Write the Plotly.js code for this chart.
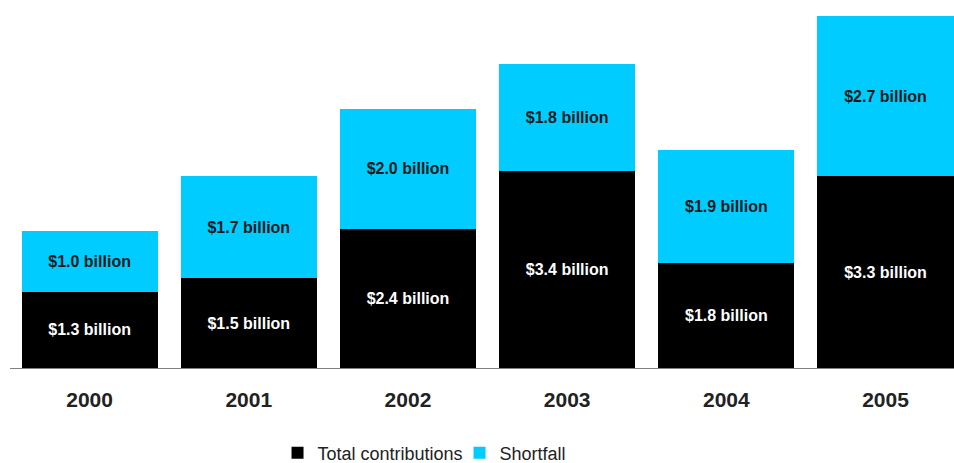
<!DOCTYPE html>
<html>
<head>
<meta charset="utf-8">
<script src="https://cdn.plot.ly/plotly-3.0.1.min.js"></script>
<style>html,body{margin:0;padding:0;background:#fff;}#chart{width:954px;height:463px;}</style>
</head>
<body>
<div id="chart"></div>
<script>
const years = ['2000', '2001', '2002', '2003', '2004', '2005'];
// bar heights (billions of dollars)
const totalContributions = [1.30, 1.53, 2.38, 3.37, 1.80, 3.27];
const shortfall = [1.045, 1.745, 2.045, 1.815, 1.915, 2.73];
const totalLabels = ['$1.3 billion', '$1.5 billion', '$2.4 billion', '$3.4 billion', '$1.8 billion', '$3.3 billion'];
const shortfallLabels = ['$1.0 billion', '$1.7 billion', '$2.0 billion', '$1.8 billion', '$1.9 billion', '$2.7 billion'];

const fontFam = 'Liberation Sans, Arial, sans-serif';

const data = [
  {
    type: 'bar', name: 'Total contributions', x: years, y: totalContributions,
    text: totalLabels, textposition: 'inside', insidetextanchor: 'middle',
    constraintext: 'none', hoverinfo: 'none',
    textfont: {family: fontFam, size: 16, color: '#ffffff', weight: 'bold'},
    marker: {color: '#000000'}
  },
  {
    type: 'bar', name: 'Shortfall', x: years, y: shortfall,
    text: shortfallLabels, textposition: 'inside', insidetextanchor: 'middle',
    constraintext: 'none', hoverinfo: 'none',
    textfont: {family: fontFam, size: 16, color: '#1a1a1a', weight: 'bold'},
    marker: {color: '#00ccff'}
  }
];

const layout = {
  width: 954, height: 463,
  margin: {l: 10, r: 0, t: 0, b: 95, autoexpand: false},
  barmode: 'stack', bargap: 0.145,
  paper_bgcolor: '#ffffff', plot_bgcolor: '#ffffff',
  font: {family: fontFam},
  showlegend: true,
  legend: {
    orientation: 'h', x: 0.2834, xanchor: 'left', y: -0.231, yanchor: 'middle',
    font: {family: fontFam, size: 18, color: '#222'}, traceorder: 'normal',
    itemwidth: 30, entrywidth: 137
  },
  xaxis: {
    type: 'category', range: [-0.5, 5.43], showgrid: false, zeroline: false,
    showline: true, linecolor: '#808080', linewidth: 1, ticks: '',
    tickfont: {family: fontFam, size: 21, color: '#222', weight: 'bold'},
    ticklabelstandoff: 13
  },
  yaxis: {
    range: [0, 6.28], showgrid: false, zeroline: false, showline: false,
    showticklabels: false, ticks: ''
  }
};

Plotly.newPlot('chart', data, layout, {displayModeBar: false, staticPlot: true});
</script>
</body>
</html>
